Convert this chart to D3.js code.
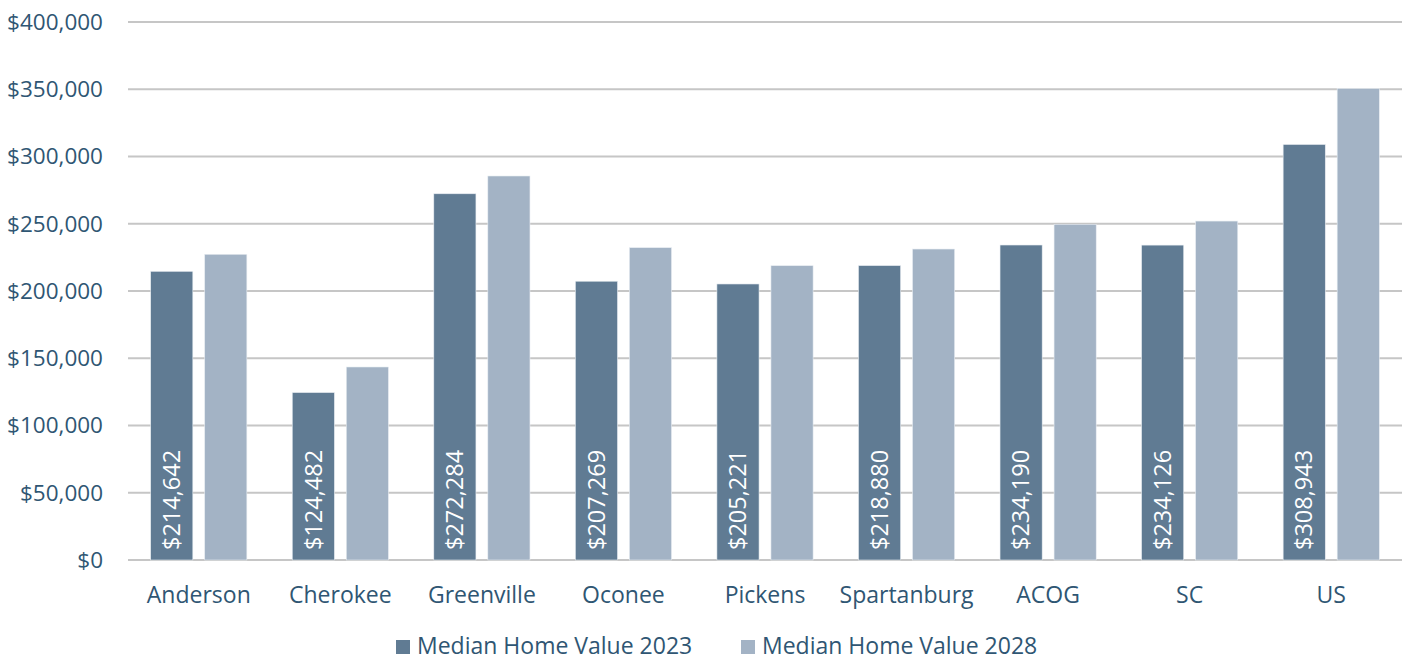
<!DOCTYPE html>
<html>
<head>
<meta charset="utf-8">
<script src="https://cdn.jsdelivr.net/npm/d3@7"></script>
<style>
  body { margin: 0; background: #fff; }
  svg text { font-family: "Open Sans", "Noto Sans", sans-serif; }
</style>
</head>
<body>
<svg id="chart"></svg>
<script>
const categories = ['Anderson', 'Cherokee', 'Greenville', 'Oconee', 'Pickens', 'Spartanburg', 'ACOG', 'SC', 'US'];
const values2023 = [214642, 124482, 272284, 207269, 205221, 218880, 234190, 234126, 308943];
const values2028 = [227300, 143500, 285500, 232200, 218800, 231200, 249600, 252000, 350500];
const seriesNames = ['Median Home Value 2023', 'Median Home Value 2028'];
const yTicks = [0, 50000, 100000, 150000, 200000, 250000, 300000, 350000, 400000];

const width = 1406, height = 660;
const margin = { top: 22, right: 4, bottom: 100, left: 128 };
const colors = ['#607b93', '#a3b3c5'];
const textColor = '#2f5673';

const svg = d3.select('#chart')
    .attr('width', width)
    .attr('height', height);

const x = d3.scaleBand()
    .domain(categories)
    .range([margin.left, width - margin.right])
    .paddingInner(0)
    .paddingOuter(0);

const x1 = d3.scaleBand()
    .domain([0, 1])
    .range([0, x.bandwidth()])
    .paddingInner(0.22)
    .paddingOuter(0.42);

const y = d3.scaleLinear()
    .domain([0, 400000])
    .range([height - margin.bottom, margin.top]);

// gridlines
svg.append('g')
    .selectAll('line')
    .data(yTicks)
    .enter()
    .append('line')
    .attr('x1', margin.left)
    .attr('x2', width - margin.right)
    .attr('y1', d => y(d))
    .attr('y2', d => y(d))
    .attr('stroke', '#c6c6c6')
    .attr('stroke-width', 2);

// y axis labels
const fmt = d3.format('$,');
svg.append('g')
    .selectAll('text')
    .data(yTicks)
    .enter()
    .append('text')
    .attr('x', 103)
    .attr('y', d => y(d))
    .attr('dy', '0.35em')
    .attr('text-anchor', 'end')
    .attr('fill', textColor)
    .style('font-size', '22.5px')
    .text(d => fmt(d));

// bars
const rows = categories.map((c, i) => ({ cat: c, vals: [values2023[i], values2028[i]] }));

const groups = svg.append('g')
    .selectAll('g')
    .data(rows)
    .enter()
    .append('g')
    .attr('transform', d => `translate(${x(d.cat)},0)`);

groups.selectAll('rect')
    .data(d => d.vals.map((v, s) => ({ v, s })))
    .enter()
    .append('rect')
    .attr('x', d => x1(d.s))
    .attr('width', x1.bandwidth())
    .attr('y', d => y(d.v))
    .attr('height', d => y(0) - y(d.v))
    .attr('fill', d => colors[d.s])
    .attr('stroke', '#e8edf2')
    .attr('stroke-width', 0.6);

// value labels on 2023 bars
groups.append('text')
    .attr('transform', d => `translate(${x1(0) + x1.bandwidth() / 2},${y(0) - 10}) rotate(-90)`)
    .attr('dy', '0.35em')
    .attr('text-anchor', 'start')
    .attr('fill', '#fff')
    .style('font-size', '23.5px')
    .text(d => fmt(d.vals[0]));

// category labels
svg.append('g')
    .selectAll('text')
    .data(categories)
    .enter()
    .append('text')
    .attr('x', d => x(d) + x.bandwidth() / 2)
    .attr('y', 595)
    .attr('dy', '0.35em')
    .attr('text-anchor', 'middle')
    .attr('fill', textColor)
    .style('font-size', '23px')
    .text(d => d);

// legend
const legendX = [396, 741];
const legend = svg.append('g')
    .selectAll('g')
    .data(seriesNames)
    .enter()
    .append('g')
    .attr('transform', (d, i) => `translate(${legendX[i]},646)`);

legend.append('rect')
    .attr('x', 0)
    .attr('y', -6)
    .attr('width', 14)
    .attr('height', 14)
    .attr('fill', (d, i) => colors[i]);

legend.append('text')
    .attr('x', 21)
    .attr('y', 0)
    .attr('dy', '0.35em')
    .attr('fill', textColor)
    .style('font-size', '23px')
    .text(d => d);
</script>
</body>
</html>
